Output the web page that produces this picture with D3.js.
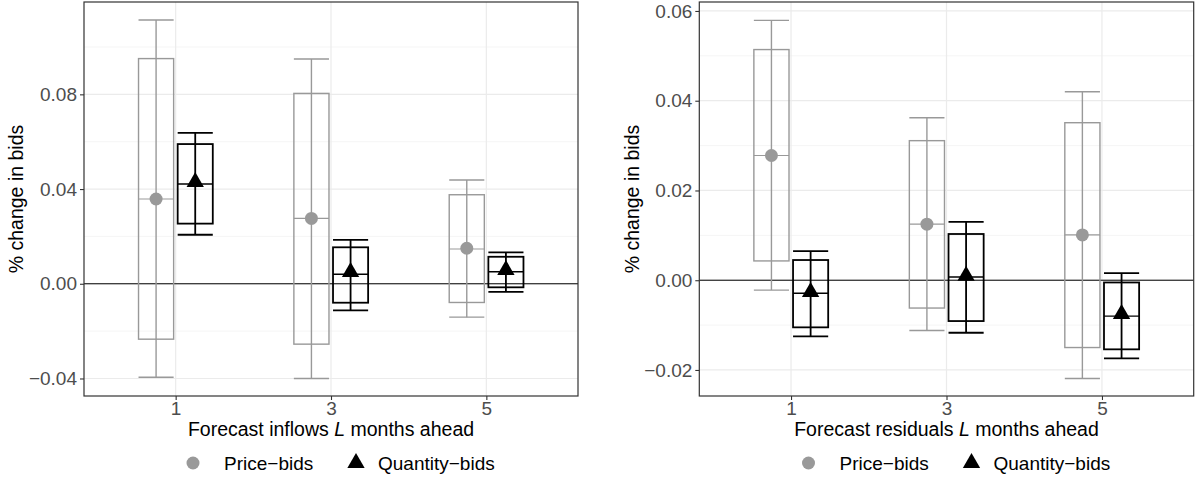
<!DOCTYPE html>
<html>
<head>
<meta charset="utf-8">
<script src="https://cdn.jsdelivr.net/npm/d3@7"></script>
<style>
  body { margin: 0; background: #fff; }
  svg { font-family: "Liberation Sans", Arial, sans-serif; }
</style>
</head>
<body>
<div id="chart"></div>
<script>
// categories (L months ahead)
const categories = ["1", "3", "5"];
const seriesNames = ["Price\u2212bids", "Quantity\u2212bids"];

// left panel: forecast inflows
const inflowPriceWhiskLo = [-0.0395, -0.0400, -0.0141];
const inflowPriceBoxLo   = [-0.0234, -0.0255, -0.0079];
const inflowPriceMedian  = [0.0358, 0.0276, 0.0147];
const inflowPriceBoxHi   = [0.0951, 0.0804, 0.0376];
const inflowPriceWhiskHi = [0.1114, 0.0949, 0.0438];
const inflowPricePoint   = [0.0358, 0.0276, 0.0150];

const inflowQtyWhiskLo = [0.0207, -0.0112, -0.0034];
const inflowQtyBoxLo   = [0.0254, -0.0080, -0.0015];
const inflowQtyMedian  = [0.0421, 0.0040, 0.0051];
const inflowQtyBoxHi   = [0.0590, 0.0154, 0.0114];
const inflowQtyWhiskHi = [0.0637, 0.0185, 0.0133];
const inflowQtyPoint   = [0.0430, 0.0050, 0.0058];

const inflowTicks = [-0.04, 0, 0.04, 0.08];

// right panel: forecast residuals
const residPriceWhiskLo = [-0.0022, -0.0112, -0.0219];
const residPriceBoxLo   = [0.0043, -0.0062, -0.0150];
const residPriceMedian  = [0.0278, 0.0125, 0.0101];
const residPriceBoxHi   = [0.0514, 0.0311, 0.0351];
const residPriceWhiskHi = [0.0579, 0.0362, 0.0420];
const residPricePoint   = [0.0278, 0.0125, 0.0101];

const residQtyWhiskLo = [-0.0125, -0.0117, -0.0174];
const residQtyBoxLo   = [-0.0105, -0.0091, -0.0154];
const residQtyMedian  = [-0.0029, 0.0007, -0.0080];
const residQtyBoxHi   = [0.0045, 0.0103, -0.0005];
const residQtyWhiskHi = [0.0065, 0.0130, 0.0016];
const residQtyPoint   = [-0.0026, 0.0010, -0.0075];

const residTicks = [-0.02, 0, 0.02, 0.04, 0.06];

const width = 1197, height = 480;
const colPrice = "#999999", colQty = "#000000";

const svg = d3.select("#chart").append("svg")
    .attr("width", width)
    .attr("height", height);

function rows(wl, bl, md, bh, wh, pt) {
    return categories.map((c, i) => ({
        cat: c, wl: wl[i], bl: bl[i], md: md[i], bh: bh[i], wh: wh[i], pt: pt[i]
    }));
}

function drawPanel(opt) {
    const x = d3.scalePoint()
        .domain(categories)
        .range([opt.left, opt.right])
        .padding(0.59);
    const y = d3.scaleLinear()
        .domain(opt.yDomain)
        .range([opt.bottom, opt.top]);
    const step = x.step();
    const dodge = step * 0.126;
    const boxW = step * 0.226;

    const g = svg.append("g");

    // minor grid lines
    const minor = [];
    for (let i = 0; i < opt.ticks.length - 1; i++) minor.push((opt.ticks[i] + opt.ticks[i + 1]) / 2);
    const d = opt.ticks[1] - opt.ticks[0];
    minor.unshift(opt.ticks[0] - d / 2);
    minor.push(opt.ticks[opt.ticks.length - 1] + d / 2);
    g.selectAll(".minor").data(minor.filter(v => v >= opt.yDomain[0] && v <= opt.yDomain[1]))
        .enter().append("line")
        .attr("x1", opt.left).attr("x2", opt.right)
        .attr("y1", v => y(v)).attr("y2", v => y(v))
        .attr("stroke", "#f2f2f2").attr("stroke-width", 0.8);

    // major grid lines
    g.selectAll(".majorY").data(opt.ticks)
        .enter().append("line")
        .attr("x1", opt.left).attr("x2", opt.right)
        .attr("y1", v => y(v)).attr("y2", v => y(v))
        .attr("stroke", "#ebebeb").attr("stroke-width", 1.2);
    g.selectAll(".majorX").data(categories)
        .enter().append("line")
        .attr("x1", c => x(c)).attr("x2", c => x(c))
        .attr("y1", opt.top).attr("y2", opt.bottom)
        .attr("stroke", "#ebebeb").attr("stroke-width", 1.2);

    // zero line
    g.append("line")
        .attr("x1", opt.left).attr("x2", opt.right)
        .attr("y1", y(0)).attr("y2", y(0))
        .attr("stroke", "#000").attr("stroke-width", 1);

    // boxes and error bars
    const series = [
        { data: opt.price, off: -dodge, col: colPrice, sw: 1.4 },
        { data: opt.qty, off: dodge, col: colQty, sw: 1.8 }
    ];
    series.forEach((s, si) => {
        const sg = g.append("g");
        const cx = r => x(r.cat) + s.off;
        sg.selectAll(".whisk").data(s.data).enter().append("line")
            .attr("x1", cx).attr("x2", cx)
            .attr("y1", r => y(r.wl)).attr("y2", r => y(r.wh))
            .attr("stroke", s.col).attr("stroke-width", s.sw);
        ["wl", "wh"].forEach(k => {
            sg.selectAll(".cap" + k).data(s.data).enter().append("line")
                .attr("x1", r => cx(r) - boxW / 2).attr("x2", r => cx(r) + boxW / 2)
                .attr("y1", r => y(r[k])).attr("y2", r => y(r[k]))
                .attr("stroke", s.col).attr("stroke-width", s.sw);
        });
        sg.selectAll(".box").data(s.data).enter().append("rect")
            .attr("x", r => cx(r) - boxW / 2)
            .attr("width", boxW)
            .attr("y", r => y(r.bh))
            .attr("height", r => y(r.bl) - y(r.bh))
            .attr("fill", "none")
            .attr("stroke", s.col).attr("stroke-width", s.sw);
        sg.selectAll(".med").data(s.data).enter().append("line")
            .attr("x1", r => cx(r) - boxW / 2).attr("x2", r => cx(r) + boxW / 2)
            .attr("y1", r => y(r.md)).attr("y2", r => y(r.md))
            .attr("stroke", s.col).attr("stroke-width", s.sw * 0.8);
        if (si === 0) {
            sg.selectAll(".pt").data(s.data).enter().append("circle")
                .attr("cx", cx).attr("cy", r => y(r.pt))
                .attr("r", 6.5).attr("fill", s.col);
        } else {
            sg.selectAll(".pt").data(s.data).enter().append("path")
                .attr("transform", r => `translate(${cx(r)},${y(r.pt)})`)
                .attr("d", d3.symbol(d3.symbolTriangle, 130)())
                .attr("fill", s.col);
        }
    });

    // panel border
    g.append("rect")
        .attr("x", opt.left).attr("y", opt.top)
        .attr("width", opt.right - opt.left)
        .attr("height", opt.bottom - opt.top)
        .attr("fill", "none").attr("stroke", "#333333").attr("stroke-width", 1.2);

    // axes
    const yAxis = g.append("g")
        .attr("transform", `translate(${opt.left},0)`)
        .call(d3.axisLeft(y).tickValues(opt.ticks).tickFormat(d3.format(".2f")).tickSize(4).tickPadding(3));
    const xAxis = g.append("g")
        .attr("transform", `translate(0,${opt.bottom})`)
        .call(d3.axisBottom(x).tickSize(4).tickPadding(2));
    [yAxis, xAxis].forEach(a => {
        a.select(".domain").remove();
        a.selectAll(".tick line").attr("stroke", "#333333").attr("stroke-width", 1.1);
        a.selectAll(".tick text").attr("fill", "#4d4d4d").style("font-size", "19px");
    });

    // axis titles
    const midX = (opt.left + opt.right) / 2;
    const xt = g.append("text")
        .attr("x", midX).attr("y", 436)
        .attr("text-anchor", "middle")
        .style("font-size", "19.5px").attr("fill", "#000");
    xt.append("tspan").text(opt.xTitle[0]);
    xt.append("tspan").style("font-style", "italic").text("L");
    xt.append("tspan").text(opt.xTitle[1]);

    g.append("text")
        .attr("transform", `translate(${opt.yTitleX},${(opt.top + opt.bottom) / 2}) rotate(-90)`)
        .attr("text-anchor", "middle")
        .style("font-size", "19.5px")
        .text("% change in bids");

    // legend
    const lg = g.append("g").attr("transform", `translate(${midX},463)`);
    lg.append("circle").attr("cx", -138).attr("cy", 0).attr("r", 6.5).attr("fill", colPrice);
    lg.append("text").attr("x", -107).attr("y", 6.5).style("font-size", "19px").text(seriesNames[0]);
    lg.append("path")
        .attr("transform", "translate(25,0)")
        .attr("d", d3.symbol(d3.symbolTriangle, 130)())
        .attr("fill", colQty);
    lg.append("text").attr("x", 47).attr("y", 6.5).style("font-size", "19px").text(seriesNames[1]);
}

drawPanel({
    left: 84, right: 578, top: 2, bottom: 396,
    yDomain: [-0.0474, 0.119],
    ticks: inflowTicks,
    price: rows(inflowPriceWhiskLo, inflowPriceBoxLo, inflowPriceMedian, inflowPriceBoxHi, inflowPriceWhiskHi, inflowPricePoint),
    qty: rows(inflowQtyWhiskLo, inflowQtyBoxLo, inflowQtyMedian, inflowQtyBoxHi, inflowQtyWhiskHi, inflowQtyPoint),
    xTitle: ["Forecast inflows ", " months ahead"],
    yTitleX: 23
});

drawPanel({
    left: 699.3, right: 1193.7, top: 2, bottom: 396,
    yDomain: [-0.0258, 0.062],
    ticks: residTicks,
    price: rows(residPriceWhiskLo, residPriceBoxLo, residPriceMedian, residPriceBoxHi, residPriceWhiskHi, residPricePoint),
    qty: rows(residQtyWhiskLo, residQtyBoxLo, residQtyMedian, residQtyBoxHi, residQtyWhiskHi, residQtyPoint),
    xTitle: ["Forecast residuals ", " months ahead"],
    yTitleX: 639
});
</script>
</body>
</html>
